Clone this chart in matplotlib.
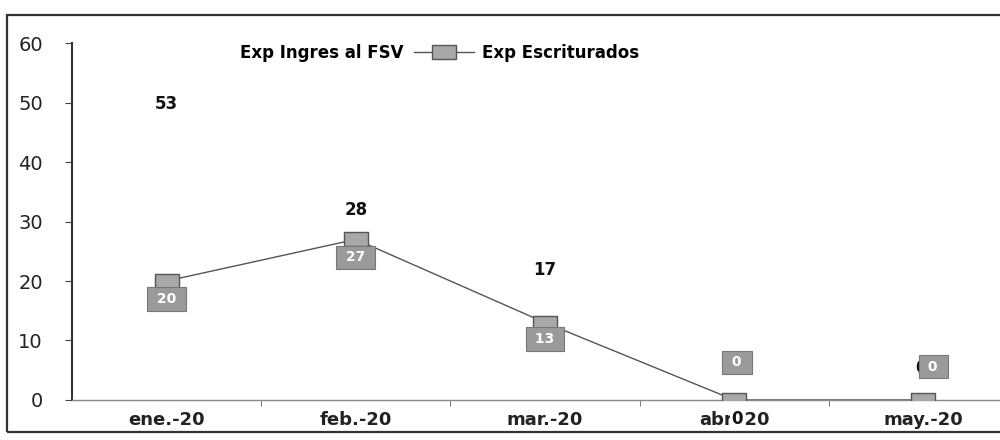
import matplotlib.pyplot as plt
from matplotlib.patches import Rectangle

meses = ["ene.-20", "feb.-20", "mar.-20", "abr.-20", "may.-20"]
ingres_fsv = [53, 28, 17, 0, 0]
escriturados = [20, 27, 13, 0, 0]

# label offsets in points (dx, dy) for each series
off_ingres = [(0, -14), (0, 17), (0, 21), (2, -14), (-2, 23)]
off_escr = [(0, -13), (0, -13), (0, -12), (2, 27), (7, 24)]

fig = plt.figure(figsize=(10, 4.4), dpi=100)
fig.patch.set_facecolor("white")

# outer chart frame
fig.patches.append(Rectangle((0.007, 0.018), 1.2, 0.947, transform=fig.transFigure,
                             fill=False, edgecolor="#333333", linewidth=1.6))

ax = fig.add_axes([0.072, 0.091, 0.946, 0.811])
x = list(range(len(meses)))

ax.plot(x, ingres_fsv, color="white", linewidth=0, label="Exp Ingres al FSV")
rect = [(-1, -0.6), (1, -0.6), (1, 0.6), (-1, 0.6), (-1, -0.6)]
ax.plot(x, escriturados, color="#555555", linewidth=1.0, marker=rect, markersize=17,
        markerfacecolor="#a8a8a8", markeredgecolor="#555555", markeredgewidth=1.0,
        label="Exp Escriturados", zorder=3)

for i, v in enumerate(ingres_fsv):
    ax.annotate(str(v), (i, v), xytext=off_ingres[i], textcoords="offset points",
                ha="center", va="center", fontsize=12, fontweight="bold", color="#111111",
                bbox=dict(boxstyle="square,pad=0.05", facecolor="white", edgecolor="none"),
                zorder=3.5)
for i, v in enumerate(escriturados):
    ax.annotate(f" {v} ", (i, v), xytext=off_escr[i], textcoords="offset points",
                ha="center", va="center", fontsize=10, fontweight="bold", color="white",
                bbox=dict(boxstyle="square,pad=0.35", facecolor="#9a9a9a",
                          edgecolor="#777777", linewidth=0.8), zorder=4)

ax.set_xlim(-0.5, 4.5)
ax.set_ylim(0, 60)
ax.set_yticks(range(0, 61, 10))
ax.set_xticks(x)
ax.set_xticklabels(meses, fontsize=13, fontweight="bold", color="#222222")
ax.set_xticks([i + 0.5 for i in range(4)], minor=True)
ax.tick_params(axis="x", which="major", length=0, pad=8)
ax.tick_params(axis="x", which="minor", length=4, color="#666666", direction="out")
ax.tick_params(axis="y", length=5, color="#444444", pad=16, labelsize=14, labelcolor="#222222")

for s in ["top", "right"]:
    ax.spines[s].set_visible(False)
ax.spines["left"].set_color("#333333")
ax.spines["left"].set_linewidth(1.5)
ax.spines["bottom"].set_color("#888888")
ax.spines["bottom"].set_linewidth(1.0)

ax.legend(loc="upper left", bbox_to_anchor=(0.09, 1.04), ncol=2, frameon=False,
          prop={"weight": "bold", "size": 12}, handlelength=3.6, columnspacing=0.6,
          handletextpad=0.5)

fig.savefig("out.png", dpi=100, facecolor="white")
